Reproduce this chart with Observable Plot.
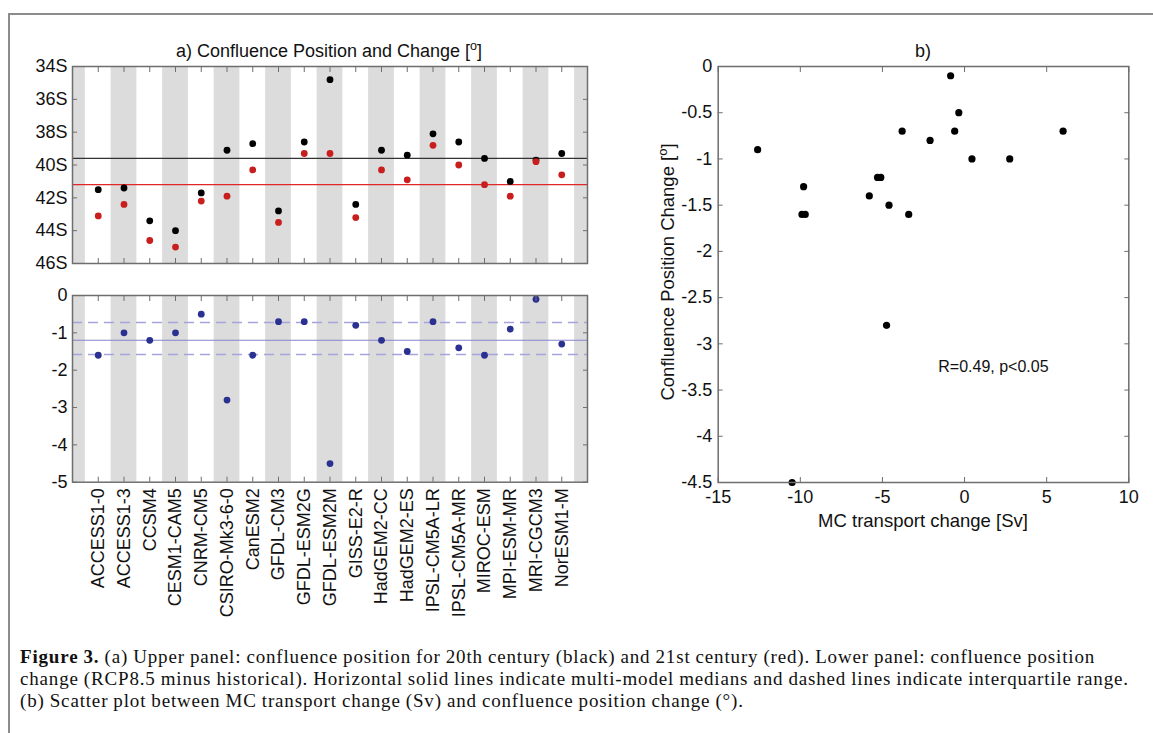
<!DOCTYPE html>
<html>
<head>
<meta charset="utf-8">
<script src="https://cdn.jsdelivr.net/npm/d3@7"></script>
<script src="https://cdn.jsdelivr.net/npm/@observablehq/plot@0.6"></script>
<style>
  body { margin: 0; background: #fff; }
  #fig { position: relative; width: 1153px; height: 733px; overflow: hidden; background: #fff;
         font-family: "Liberation Sans", Arial, sans-serif; color: #111; }
  #border { position: absolute; left: 8px; top: 13px; width: 1300px; height: 900px;
            border-left: 2px solid #8c8c8c; border-top: 2px solid #8c8c8c; }
  .abs { position: absolute; white-space: nowrap; }
  .ctr { transform: translate(-50%, -50%); }
  .rot { transform: translate(-50%, -50%) rotate(-90deg); }
  sup { font-size: 0.7em; vertical-align: 0.55em; line-height: 0; }
  #caption { position: absolute; left: 20px; top: 646px; font-family: "Liberation Serif", "Times New Roman", serif;
             font-size: 19px; letter-spacing: 0.83px; word-spacing: -0.5px; line-height: 22px; white-space: nowrap; color: #111; }
  svg { position: absolute; overflow: visible; }
</style>
</head>
<body>
<div id="fig">
  <div id="border"></div>
  <div class="abs ctr" style="left:329px; top:51px; font-size:18px;">a) Confluence Position and Change [<sup>o</sup>]</div>
  <div class="abs ctr" style="left:923px; top:51px; font-size:18px;">b)</div>
  <div class="abs ctr" style="left:923px; top:521px; font-size:18.5px;">MC transport change [Sv]</div>
  <div class="abs rot" style="left:668px; top:272px; font-size:18.5px;">Confluence Position Change [<sup>o</sup>]</div>
  <div id="caption"><b>Figure 3.</b> (a) Upper panel: confluence position for 20th century (black) and 21st century (red). Lower panel: confluence position<br>change (RCP8.5 minus historical). Horizontal solid lines indicate multi-model medians and dashed lines indicate interquartile range.<br>(b) Scatter plot between MC transport change (Sv) and confluence position change (°).</div>
</div>
<script>
// ---------- data ----------
const models = ["ACCESS1-0","ACCESS1-3","CCSM4","CESM1-CAM5","CNRM-CM5","CSIRO-Mk3-6-0","CanESM2",
  "GFDL-CM3","GFDL-ESM2G","GFDL-ESM2M","GISS-E2-R","HadGEM2-CC","HadGEM2-ES","IPSL-CM5A-LR",
  "IPSL-CM5A-MR","MIROC-ESM","MPI-ESM-MR","MRI-CGCM3","NorESM1-M"];
// confluence position (degrees S)
const position20th = [41.5,41.4,43.4,44.0,41.7,39.1,38.7,42.8,38.6,34.8,42.4,39.1,39.4,38.1,38.6,39.6,41.0,39.7,39.3];
const position21st = [43.1,42.4,44.6,45.0,42.2,41.9,40.3,43.5,39.3,39.3,43.2,40.3,40.9,38.8,40.0,41.2,41.9,39.8,40.6];
// confluence position change (RCP8.5 minus historical)
const positionChange = [-1.6,-1.0,-1.2,-1.0,-0.5,-2.8,-1.6,-0.7,-0.7,-4.5,-0.8,-1.2,-1.5,-0.7,-1.4,-1.6,-0.9,-0.1,-1.3];
const changeQuartiles = [-1.58, -0.72];
// scatter (b)
const transportChange = [-12.6,-9.8,-9.9,-9.7,-5.8,-5.3,-5.1,-4.6,-3.8,-3.4,-2.1,-0.85,-0.6,-0.35,0.45,2.75,6.0,-4.75,-10.5];
const scatterPositionChange = [-0.9,-1.3,-1.6,-1.6,-1.4,-1.2,-1.2,-1.5,-0.7,-1.6,-0.8,-0.1,-0.7,-0.5,-1.0,-1.0,-0.7,-2.8,-4.5];
const statText = "R=0.49, p<0.05";
const upperTicks = [34,36,38,40,42,44,46];
const lowerTicks = [-5,-4,-3,-2,-1,0];
const scatterXTicks = [-15,-10,-5,0,5,10];
const scatterYTicks = [-4.5,-4,-3.5,-3,-2.5,-2,-1.5,-1,-0.5,0];

// ---------- helpers ----------
const idx = models.map((m, i) => i + 1);
const stripes = d3.range(0, models.length + 2, 2);
const frameColor = "#6e6e6e";
const style = {fontFamily: "'Liberation Sans', Arial, sans-serif", fontSize: "18px", color: "#111", background: "transparent", overflow: "visible"};
const innerTicks = (fn, data, anchor) => fn(data, {anchor, tickSize: -5, tickFormat: () => "", stroke: frameColor, label: null});
const fig = document.getElementById("fig");
function place(svg, left, top) {
  svg.style.left = left + "px"; svg.style.top = top + "px";
  fig.appendChild(svg);
}

// ---------- upper panel ----------
const upper = Plot.plot({
  width: 600, height: 275,
  marginLeft: 72, marginRight: 13, marginTop: 66, marginBottom: 12,
  style,
  x: {domain: [0, models.length + 1]},
  y: {domain: [46, 34]},
  marks: [
    Plot.rect(stripes, {x1: d => d - 0.5, x2: d => d + 0.5, fill: "#dcdcdc", clip: true}),
    Plot.ruleY([d3.median(position20th)], {stroke: "#333", strokeWidth: 1.2}),
    Plot.ruleY([d3.median(position21st)], {stroke: "#e02626", strokeWidth: 1.2}),
    Plot.dot(idx, {x: d => d, y: d => position20th[d - 1], r: 3.4, fill: "#000"}),
    Plot.dot(idx, {x: d => d, y: d => position21st[d - 1], r: 3.4, fill: "#c81e1e"}),
    innerTicks(Plot.axisX, idx, "top"),
    innerTicks(Plot.axisX, idx, "bottom"),
    innerTicks(Plot.axisY, upperTicks, "left"),
    innerTicks(Plot.axisY, upperTicks, "right"),
    Plot.axisY(upperTicks, {anchor: "left", tickSize: 0, tickPadding: 5, tickFormat: d => d + "S", label: null}),
    Plot.frame({stroke: frameColor, strokeWidth: 1.5})
  ]
});
place(upper, 0, 0);

// ---------- lower panel ----------
const lower = Plot.plot({
  width: 600, height: 360,
  marginLeft: 72, marginRight: 13, marginTop: 15, marginBottom: 158.3,
  style,
  x: {domain: [0, models.length + 1]},
  y: {domain: [-5, 0]},
  marks: [
    Plot.rect(stripes, {x1: d => d - 0.5, x2: d => d + 0.5, fill: "#dcdcdc", clip: true}),
    Plot.ruleY(changeQuartiles, {stroke: "#a4a4dc", strokeWidth: 1.5, strokeDasharray: "10,6"}),
    Plot.ruleY([d3.median(positionChange)], {stroke: "#8585cc", strokeWidth: 1.1}),
    Plot.dot(idx, {x: d => d, y: d => positionChange[d - 1], r: 3.4, fill: "#2b3190"}),
    innerTicks(Plot.axisX, idx, "top"),
    innerTicks(Plot.axisX, idx, "bottom"),
    innerTicks(Plot.axisY, lowerTicks, "left"),
    innerTicks(Plot.axisY, lowerTicks, "right"),
    Plot.axisY(lowerTicks, {anchor: "left", tickSize: 0, tickPadding: 5, tickFormat: d => String(d), label: null}),
    Plot.axisX(idx, {anchor: "bottom", tickSize: 0, tickPadding: 6, tickRotate: -90, tickFormat: d => models[d - 1], label: null}),
    Plot.frame({stroke: frameColor, strokeWidth: 1.5})
  ]
});
place(lower, 0, 280);

// ---------- scatter panel ----------
const scatter = Plot.plot({
  width: 533, height: 540,
  marginLeft: 97.7, marginRight: 24.7, marginTop: 66, marginBottom: 58,
  style,
  x: {domain: [-15, 10]},
  y: {domain: [-4.5, 0]},
  marks: [
    Plot.dot(transportChange, {x: d => d, y: (d, i) => scatterPositionChange[i], r: 3.6, fill: "#000"}),
    Plot.text([statText], {x: -1.6, y: -3.25, text: d => d, textAnchor: "start", fontSize: 16, fill: "#111"}),
    innerTicks(Plot.axisX, scatterXTicks, "top"),
    innerTicks(Plot.axisX, scatterXTicks, "bottom"),
    innerTicks(Plot.axisY, scatterYTicks, "left"),
    innerTicks(Plot.axisY, scatterYTicks, "right"),
    Plot.axisX(scatterXTicks, {anchor: "bottom", tickSize: 0, tickPadding: 8, tickFormat: d => String(d), label: null}),
    Plot.axisY(scatterYTicks, {anchor: "left", tickSize: 0, tickPadding: 6, tickFormat: d => String(d), label: null}),
    Plot.frame({stroke: frameColor, strokeWidth: 1.5})
  ]
});
place(scatter, 620, 0);
</script>
</body>
</html>
